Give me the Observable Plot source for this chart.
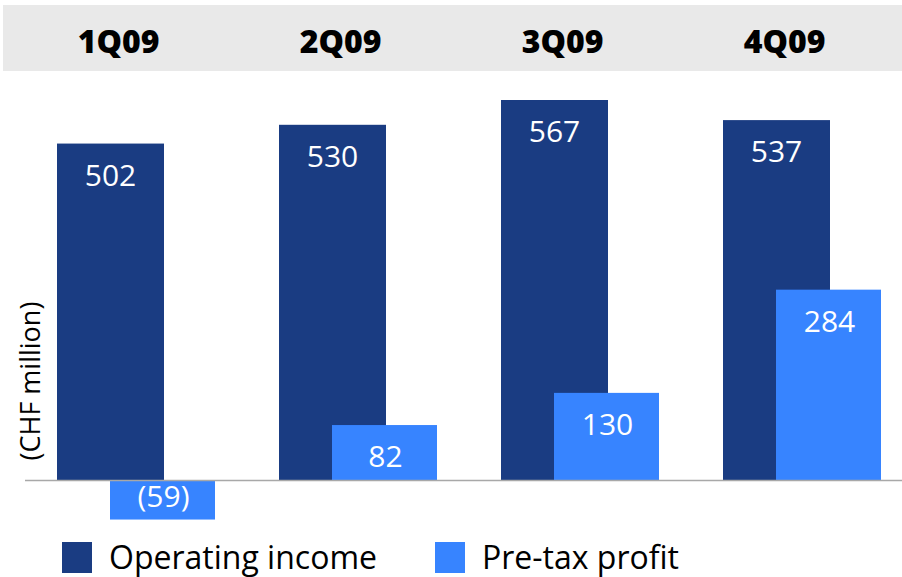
<!DOCTYPE html>
<html>
<head>
<meta charset="utf-8">
<script src="https://cdn.jsdelivr.net/npm/d3@7"></script>
<script src="https://cdn.jsdelivr.net/npm/@observablehq/plot@0.6"></script>
<style>
  html, body { margin: 0; padding: 0; background: #fff; }
  #wrap { position: relative; width: 902px; height: 577px; font-family: "Open Sans", sans-serif; overflow: hidden; }
  #band { position: absolute; left: 3px; top: 5px; width: 899px; height: 66px; background: #e9e9e9; }
  #chart { position: absolute; left: 0; top: 0; }
  #legend { position: absolute; left: 0; top: 541px; width: 902px; height: 36px; }
  .item { position: absolute; top: 0; display: flex; align-items: flex-start; font-size: 32px; line-height: 32px; color: #000; white-space: nowrap; }
  .sw { width: 30px; height: 31px; margin-top: 1px; margin-right: 17px; }
</style>
</head>
<body>
<div id="wrap">
  <div id="band"></div>
  <div id="chart"></div>
  <div id="legend"></div>
</div>
<script>
const quarters = ["1Q09", "2Q09", "3Q09", "4Q09"];
const operatingIncome = [502, 530, 567, 537];
const preTaxProfit = [-59, 82, 130, 284];
const seriesNames = ["Operating income", "Pre-tax profit"];
const seriesColors = ["#1a3c82", "#3784ff"];
const yLabel = "(CHF million)";

const fmt = v => v < 0 ? `(${Math.abs(v)})` : `${v}`;
const op = quarters.map((q, i) => ({quarter: q, value: operatingIncome[i]}));
const pt = quarters.map((q, i) => ({quarter: q, value: preTaxProfit[i]}));

const chart = Plot.plot({
  width: 902,
  height: 530,
  marginLeft: 25,
  marginRight: 0,
  marginTop: 72,
  marginBottom: 0,
  style: {background: "transparent", fontFamily: "Open Sans, sans-serif"},
  x: {domain: quarters, range: [57, 882], paddingInner: 0.288, paddingOuter: 0, label: null},
  y: {domain: [0, 567], range: [480, 100], axis: null},
  marks: [
    Plot.axisX({anchor: "top", tickSize: 0, tickPadding: 0, dx: -18, dy: -20, fontSize: 32, fontWeight: 800, fill: "#000", label: null}),
    Plot.barY(op, {x: "quarter", y: "value", fill: seriesColors[0], insetRight: 51}),
    Plot.barY(pt, {x: "quarter", y: "value", fill: seriesColors[1], insetLeft: 53}),
    Plot.ruleY([0], {stroke: "#a8a8a8", strokeWidth: 1.5}),
    Plot.text(op, {x: "quarter", y: "value", text: d => fmt(d.value), dx: -26, dy: 32, fill: "#fff", fontSize: 30, lineAnchor: "middle"}),
    Plot.text(pt.filter(d => d.value >= 0), {x: "quarter", y: "value", text: d => fmt(d.value), dx: 27, dy: 32, fill: "#fff", fontSize: 30, lineAnchor: "middle"}),
    Plot.text(pt.filter(d => d.value < 0), {x: "quarter", y: "value", text: d => fmt(d.value), dx: 27, dy: -23, fill: "#fff", fontSize: 30, lineAnchor: "middle"}),
    Plot.text([yLabel], {frameAnchor: "bottom-left", text: d => d, rotate: -90, textAnchor: "start", lineAnchor: "middle", dx: 6, dy: -70, fontSize: 27, fill: "#000"})
  ]
});
document.getElementById("chart").appendChild(chart);

const legend = document.getElementById("legend");
const lefts = [62, 435];
seriesNames.forEach((name, i) => {
  const it = document.createElement("div");
  it.className = "item";
  it.style.left = lefts[i] + "px";
  it.innerHTML = `<div class="sw" style="background:${seriesColors[i]}"></div><span>${name}</span>`;
  legend.appendChild(it);
});
</script>
</body>
</html>
